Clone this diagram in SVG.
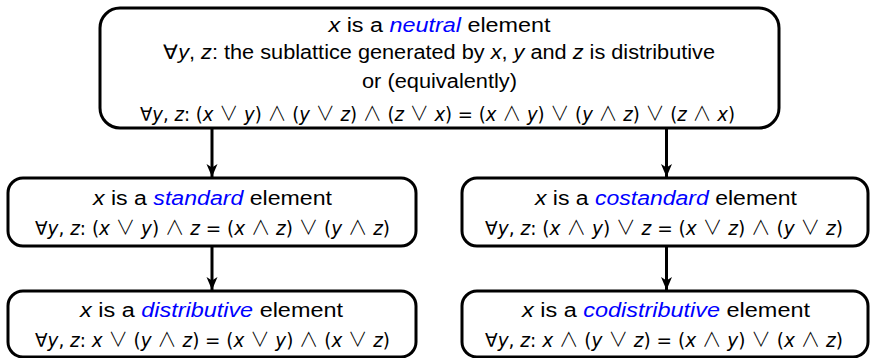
<svg xmlns="http://www.w3.org/2000/svg" width="870" height="358" viewBox="0 0 870 358">
<style>
.box{fill:#fff;stroke:#000;stroke-width:3}
text{font-family:"Liberation Sans",Arial,sans-serif;font-size:20px;fill:#000;text-anchor:middle}
.m{font-family:"DejaVu Sans",sans-serif;font-size:19px}
.o{font-family:"Noto Sans CJK JP","DejaVu Sans",sans-serif;font-size:20px;font-weight:300}
.v{font-style:italic}
.k{font-style:italic;fill:#0000ff}
.edge{stroke:#000;stroke-width:3;fill:none;marker-end:url(#ah)}
</style>
<defs>
<marker id="ah" markerUnits="userSpaceOnUse" markerWidth="14" markerHeight="14" viewBox="0 0 14 14" refX="13" refY="7" orient="auto">
<path d="M0,1.5 L13,7 L0,12.5 L3.5,7 Z" fill="#000"/>
</marker>
</defs>
<rect width="870" height="358" fill="#fff"/>
<g id="connectors">
<line class="edge" x1="212" y1="129" x2="212" y2="177"/>
<line class="edge" x1="666.5" y1="129" x2="666.5" y2="177"/>
<line class="edge" x1="212" y1="247" x2="212" y2="290"/>
<line class="edge" x1="666.5" y1="247" x2="666.5" y2="290"/>
</g>
<g id="neutral">
<rect class="box" x="100" y="8" width="679" height="120" rx="20"/>
<text x="439.5" y="32" textLength="222" lengthAdjust="spacingAndGlyphs"><tspan class="v">x</tspan> is a <tspan class="k">neutral</tspan> element</text>
<text x="439" y="59" textLength="552" lengthAdjust="spacingAndGlyphs">∀<tspan class="v">y</tspan>, <tspan class="v">z</tspan>: the sublattice generated by <tspan class="v">x</tspan>, <tspan class="v">y</tspan> and <tspan class="v">z</tspan> is distributive</text>
<text x="439.5" y="88" textLength="155" lengthAdjust="spacingAndGlyphs">or (equivalently)</text>
<text class="m" x="437.5" y="121" textLength="595" lengthAdjust="spacingAndGlyphs">∀<tspan class="v">y</tspan>, <tspan class="v">z</tspan>: (<tspan class="v">x</tspan> <tspan class="o">∨</tspan> <tspan class="v">y</tspan>) <tspan class="o">∧</tspan> (<tspan class="v">y</tspan> <tspan class="o">∨</tspan> <tspan class="v">z</tspan>) <tspan class="o">∧</tspan> (<tspan class="v">z</tspan> <tspan class="o">∨</tspan> <tspan class="v">x</tspan>) = (<tspan class="v">x</tspan> <tspan class="o">∧</tspan> <tspan class="v">y</tspan>) <tspan class="o">∨</tspan> (<tspan class="v">y</tspan> <tspan class="o">∧</tspan> <tspan class="v">z</tspan>) <tspan class="o">∨</tspan> (<tspan class="v">z</tspan> <tspan class="o">∧</tspan> <tspan class="v">x</tspan>)</text>
</g>
<g id="standard">
<rect class="box" x="8" y="178" width="408" height="68" rx="15"/>
<text x="212.5" y="205" textLength="239" lengthAdjust="spacingAndGlyphs"><tspan class="v">x</tspan> is a <tspan class="k">standard</tspan> element</text>
<text class="m" x="212.5" y="235" textLength="355" lengthAdjust="spacingAndGlyphs">∀<tspan class="v">y</tspan>, <tspan class="v">z</tspan>: (<tspan class="v">x</tspan> <tspan class="o">∨</tspan> <tspan class="v">y</tspan>) <tspan class="o">∧</tspan> <tspan class="v">z</tspan> = (<tspan class="v">x</tspan> <tspan class="o">∧</tspan> <tspan class="v">z</tspan>) <tspan class="o">∨</tspan> (<tspan class="v">y</tspan> <tspan class="o">∧</tspan> <tspan class="v">z</tspan>)</text>
</g>
<g id="costandard">
<rect class="box" x="462" y="178" width="406" height="68" rx="15"/>
<text x="666" y="205" textLength="262" lengthAdjust="spacingAndGlyphs"><tspan class="v">x</tspan> is a <tspan class="k">costandard</tspan> element</text>
<text class="m" x="664" y="235" textLength="358" lengthAdjust="spacingAndGlyphs">∀<tspan class="v">y</tspan>, <tspan class="v">z</tspan>: (<tspan class="v">x</tspan> <tspan class="o">∧</tspan> <tspan class="v">y</tspan>) <tspan class="o">∨</tspan> <tspan class="v">z</tspan> = (<tspan class="v">x</tspan> <tspan class="o">∨</tspan> <tspan class="v">z</tspan>) <tspan class="o">∧</tspan> (<tspan class="v">y</tspan> <tspan class="o">∨</tspan> <tspan class="v">z</tspan>)</text>
</g>
<g id="distributive">
<rect class="box" x="8" y="291" width="408" height="66" rx="15"/>
<text x="211.5" y="317" textLength="263" lengthAdjust="spacingAndGlyphs"><tspan class="v">x</tspan> is a <tspan class="k">distributive</tspan> element</text>
<text class="m" x="212.5" y="347" textLength="355" lengthAdjust="spacingAndGlyphs">∀<tspan class="v">y</tspan>, <tspan class="v">z</tspan>: <tspan class="v">x</tspan> <tspan class="o">∨</tspan> (<tspan class="v">y</tspan> <tspan class="o">∧</tspan> <tspan class="v">z</tspan>) = (<tspan class="v">x</tspan> <tspan class="o">∨</tspan> <tspan class="v">y</tspan>) <tspan class="o">∧</tspan> (<tspan class="v">x</tspan> <tspan class="o">∨</tspan> <tspan class="v">z</tspan>)</text>
</g>
<g id="codistributive">
<rect class="box" x="462" y="291" width="406" height="66" rx="15"/>
<text x="666" y="317" textLength="288" lengthAdjust="spacingAndGlyphs"><tspan class="v">x</tspan> is a <tspan class="k">codistributive</tspan> element</text>
<text class="m" x="664" y="347" textLength="358" lengthAdjust="spacingAndGlyphs">∀<tspan class="v">y</tspan>, <tspan class="v">z</tspan>: <tspan class="v">x</tspan> <tspan class="o">∧</tspan> (<tspan class="v">y</tspan> <tspan class="o">∨</tspan> <tspan class="v">z</tspan>) = (<tspan class="v">x</tspan> <tspan class="o">∧</tspan> <tspan class="v">y</tspan>) <tspan class="o">∨</tspan> (<tspan class="v">x</tspan> <tspan class="o">∧</tspan> <tspan class="v">z</tspan>)</text>
</g>
</svg>
